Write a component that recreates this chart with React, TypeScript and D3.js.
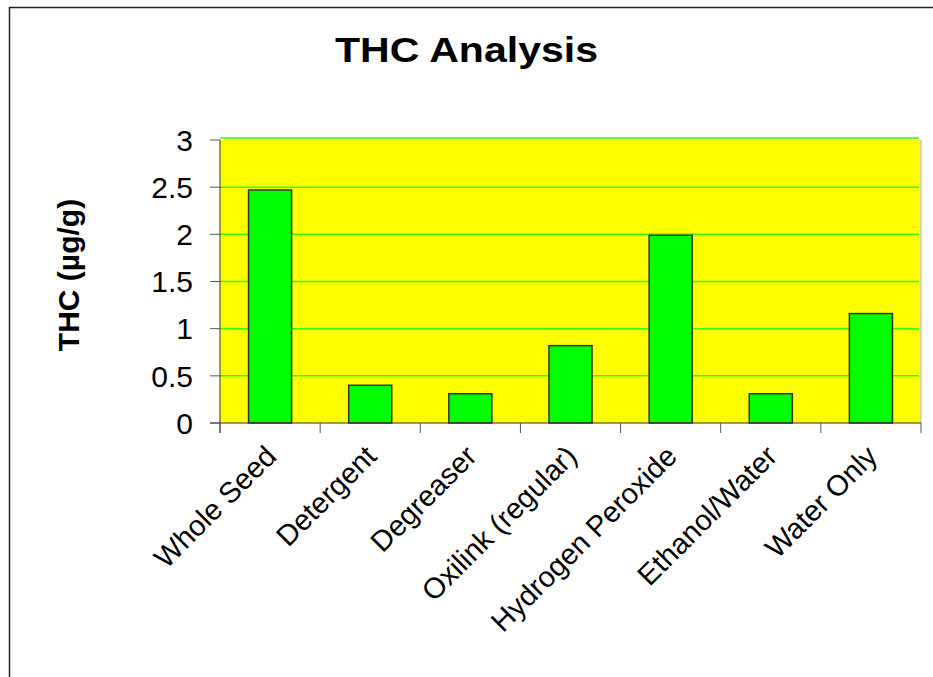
import * as d3 from 'd3';

const CATEGORIES = [
  'Whole Seed',
  'Detergent',
  'Degreaser',
  'Oxilink (regular)',
  'Hydrogen Peroxide',
  'Ethanol/Water',
  'Water Only',
];
const THC = [2.47, 0.4, 0.31, 0.82, 1.99, 0.31, 1.16];
const Y_TICKS = [0, 0.5, 1, 1.5, 2, 2.5, 3];

const VW = 933;
const VH = 677;
const PLOT = { left: 220, right: 921, top: 140, bottom: 423 };

const YELLOW = '#ffff00';
const GREEN = '#00ff00';
const GRID = '#33ff00';
const FONT = 'Arial, "Liberation Sans", sans-serif';

const x = d3.scaleBand<string>()
  .domain(CATEGORIES)
  .range([PLOT.left, PLOT.right])
  .paddingInner(0.57)
  .paddingOuter(0.285);

const band = d3.scaleBand<string>()
  .domain(CATEGORIES)
  .range([PLOT.left, PLOT.right]);

const y = d3.scaleLinear()
  .domain([0, 3])
  .range([PLOT.bottom, PLOT.top]);

export default function App() {
  return (
    <svg width={VW} height={VH} viewBox={`0 0 ${VW} ${VH}`}
      style={{ position: 'absolute', left: 0, top: 0, display: 'block', background: '#fff' }}>
      {/* outer frame */}
      <line x1={9} y1={7.5} x2={VW} y2={7.5} stroke="#222" strokeWidth={1.5} />
      <line x1={9.5} y1={7} x2={9.5} y2={VH} stroke="#222" strokeWidth={1.5} />

      <text x={335} y={62} fontFamily={FONT} fontWeight={700} fontSize={35}
        textLength={263} lengthAdjust="spacingAndGlyphs" fill="#000">THC Analysis</text>

      <rect x={PLOT.left} y={PLOT.top} width={PLOT.right - PLOT.left}
        height={PLOT.bottom - PLOT.top} fill={YELLOW} />
      <line x1={PLOT.right} y1={PLOT.top} x2={PLOT.right} y2={PLOT.bottom}
        stroke="#c8c8c8" strokeWidth={1.5} />

      {Y_TICKS.filter(t => t > 0).map(t => (
        <line key={`g${t}`} x1={PLOT.left} x2={PLOT.right - 2}
          y1={y(t) - (t === 3 ? 2 : 0)} y2={y(t) - (t === 3 ? 2 : 0)}
          stroke={GRID} strokeWidth={1.5} />
      ))}

      {CATEGORIES.map((c, i) => (
        <rect key={c} x={x(c)} y={y(THC[i])} width={x.bandwidth()}
          height={y(0) - y(THC[i])} fill={GREEN} stroke="#333" strokeWidth={1.5} />
      ))}

      {/* axes */}
      <line x1={PLOT.left} y1={PLOT.top} x2={PLOT.left} y2={PLOT.bottom + 10} stroke="#333" strokeWidth={1} />
      <line x1={PLOT.left - 10} y1={PLOT.bottom} x2={PLOT.right} y2={PLOT.bottom} stroke="#333" strokeWidth={1} />
      {Y_TICKS.map(t => (
        <g key={`t${t}`}>
          <line x1={PLOT.left - 10} x2={PLOT.left} y1={y(t)} y2={y(t)} stroke="#555" strokeWidth={1} />
          <text x={193} y={y(t)} dy="0.36em" textAnchor="end" fontFamily={FONT}
            fontSize={30} fill="#000">{t}</text>
        </g>
      ))}
      {[...CATEGORIES.map(c => band(c)!), PLOT.right].map((px, i) => (
        <line key={`xt${i}`} x1={px} x2={px} y1={PLOT.bottom} y2={PLOT.bottom + 10}
          stroke="#555" strokeWidth={1} />
      ))}

      {CATEGORIES.map(c => {
        const cx = band(c)! + band.bandwidth() / 2 + 8;
        const cy = 458;
        return (
          <text key={`l${c}`} x={cx} y={cy} textAnchor="end" fontFamily={FONT}
            fontSize={29} fill="#000" transform={`rotate(-45, ${cx}, ${cy})`}>{c}</text>
        );
      })}

      <text x={0} y={0} textAnchor="middle" fontFamily={FONT} fontWeight={700}
        fontSize={30} fill="#000" transform="translate(79, 275) rotate(-90)">THC (µg/g)</text>
    </svg>
  );
}
